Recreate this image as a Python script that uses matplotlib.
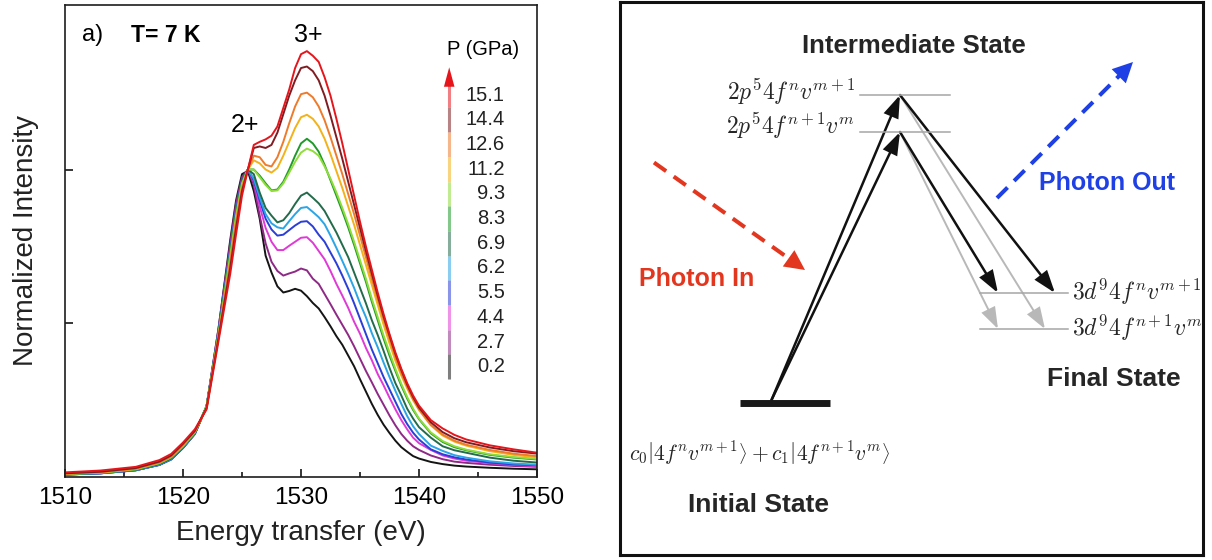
import matplotlib
matplotlib.use("Agg")
import numpy as np
import matplotlib.pyplot as plt
from matplotlib.patches import FancyArrowPatch

plt.rcParams['font.family'] = ['Liberation Sans', 'DejaVu Sans']
plt.rcParams['mathtext.fontset'] = 'cm'

# ---- spectra: energy transfer grid (eV) and normalized intensity per pressure ----
energy = [1510, 1513, 1516, 1518, 1519, 1520, 1521, 1522, 1523, 1524, 1524.5, 1525, 1525.5,
          1526, 1526.5, 1527, 1527.5, 1528, 1528.5, 1529, 1529.5, 1530, 1530.5, 1531, 1531.5,
          1532, 1532.5, 1533, 1533.5, 1534, 1534.5, 1535, 1535.5, 1536, 1536.5, 1537, 1537.5,
          1538, 1538.5, 1539, 1539.5, 1540, 1541, 1542, 1543, 1544, 1546, 1548, 1550]

pressures = ['0.2', '2.7', '4.4', '5.5', '6.2', '6.9', '8.3', '9.3', '11.2', '12.6', '14.4', '15.1']

int_0p2 = [0.008, 0.012, 0.022, 0.04, 0.058, 0.095, 0.14, 0.23, 0.48, 0.77, 0.9, 0.985, 0.995,
           0.93, 0.84, 0.72, 0.665, 0.62, 0.60, 0.605, 0.612, 0.606, 0.588, 0.566, 0.548,
           0.52, 0.49, 0.458, 0.43, 0.395, 0.36, 0.318, 0.278, 0.238, 0.202, 0.17, 0.143,
           0.118, 0.097, 0.082, 0.068, 0.06, 0.049, 0.042, 0.037, 0.034, 0.03, 0.027, 0.025]
int_2p7 = [0.008, 0.012, 0.022, 0.04, 0.058, 0.095, 0.14, 0.23, 0.48, 0.76, 0.89, 0.975, 1.0,
           0.95, 0.85, 0.76, 0.70, 0.67, 0.655, 0.662, 0.668, 0.678, 0.672, 0.645, 0.628,
           0.595, 0.562, 0.528, 0.495, 0.462, 0.425, 0.385, 0.345, 0.308, 0.27, 0.235, 0.2,
           0.168, 0.14, 0.118, 0.1, 0.088, 0.07, 0.058, 0.05, 0.046, 0.04, 0.036, 0.033]
int_4p4 = [0.009, 0.013, 0.023, 0.04, 0.058, 0.095, 0.14, 0.23, 0.47, 0.74, 0.87, 0.965, 1.0,
           0.96, 0.88, 0.81, 0.765, 0.738, 0.738, 0.752, 0.765, 0.778, 0.78, 0.762, 0.735,
           0.708, 0.67, 0.628, 0.59, 0.55, 0.505, 0.466, 0.42, 0.38, 0.335, 0.298, 0.258,
           0.22, 0.185, 0.155, 0.128, 0.11, 0.088, 0.07, 0.06, 0.053, 0.045, 0.039, 0.035]
int_5p5 = [0.008, 0.012, 0.022, 0.039, 0.057, 0.094, 0.14, 0.23, 0.47, 0.74, 0.87, 0.965, 1.0,
           0.965, 0.9, 0.84, 0.805, 0.785, 0.788, 0.803, 0.818, 0.83, 0.832, 0.815, 0.788,
           0.765, 0.73, 0.695, 0.655, 0.612, 0.565, 0.515, 0.465, 0.415, 0.37, 0.325, 0.285,
           0.245, 0.205, 0.172, 0.144, 0.122, 0.09, 0.074, 0.064, 0.057, 0.047, 0.041, 0.038]
int_6p2 = [0.008, 0.012, 0.022, 0.04, 0.058, 0.096, 0.14, 0.23, 0.47, 0.735, 0.865, 0.96, 1.0,
           0.97, 0.91, 0.855, 0.825, 0.812, 0.808, 0.832, 0.855, 0.875, 0.878, 0.862, 0.845,
           0.822, 0.785, 0.745, 0.703, 0.66, 0.615, 0.565, 0.52, 0.468, 0.422, 0.372, 0.325,
           0.28, 0.238, 0.198, 0.165, 0.14, 0.102, 0.085, 0.071, 0.063, 0.051, 0.044, 0.04]
int_6p9 = [0.009, 0.013, 0.023, 0.042, 0.06, 0.098, 0.142, 0.23, 0.465, 0.73, 0.86, 0.96, 1.0,
           0.985, 0.925, 0.875, 0.85, 0.828, 0.835, 0.858, 0.888, 0.915, 0.925, 0.908, 0.89,
           0.865, 0.83, 0.795, 0.755, 0.715, 0.665, 0.615, 0.565, 0.51, 0.462, 0.41, 0.355,
           0.305, 0.265, 0.222, 0.19, 0.162, 0.128, 0.1, 0.087, 0.079, 0.063, 0.053, 0.047]
int_8p3 = [0.01, 0.014, 0.025, 0.045, 0.064, 0.1, 0.145, 0.23, 0.46, 0.72, 0.85, 0.955, 1.0,
           1.0, 0.98, 0.955, 0.932, 0.935, 0.96, 1.0, 1.045, 1.085, 1.1, 1.085, 1.058,
           1.015, 0.965, 0.915, 0.865, 0.812, 0.755, 0.695, 0.635, 0.57, 0.51, 0.45, 0.395,
           0.345, 0.297, 0.255, 0.218, 0.188, 0.142, 0.114, 0.097, 0.087, 0.072, 0.063, 0.057]
int_9p3 = [0.01, 0.014, 0.025, 0.045, 0.064, 0.1, 0.145, 0.23, 0.46, 0.72, 0.85, 0.955, 1.0,
           1.0, 0.975, 0.95, 0.93, 0.932, 0.955, 0.99, 1.025, 1.055, 1.068, 1.06, 1.045,
           1.01, 0.97, 0.925, 0.875, 0.822, 0.765, 0.705, 0.645, 0.58, 0.52, 0.46, 0.405,
           0.352, 0.303, 0.26, 0.222, 0.19, 0.145, 0.117, 0.1, 0.089, 0.074, 0.065, 0.059]
int_11p2 = [0.011, 0.015, 0.027, 0.047, 0.066, 0.104, 0.148, 0.225, 0.455, 0.7, 0.835, 0.945, 1.0,
            1.03, 1.02, 1.0, 0.99, 1.005, 1.045, 1.09, 1.135, 1.17, 1.178, 1.165, 1.14,
            1.1, 1.05, 0.995, 0.94, 0.88, 0.82, 0.755, 0.69, 0.625, 0.56, 0.495, 0.435,
            0.378, 0.33, 0.288, 0.25, 0.218, 0.168, 0.135, 0.115, 0.102, 0.084, 0.072, 0.064]
int_12p6 = [0.011, 0.015, 0.027, 0.047, 0.066, 0.104, 0.148, 0.225, 0.455, 0.7, 0.83, 0.94, 1.0,
            1.045, 1.04, 1.015, 1.01, 1.04, 1.09, 1.15, 1.205, 1.245, 1.25, 1.235, 1.205,
            1.16, 1.105, 1.045, 0.985, 0.92, 0.855, 0.785, 0.715, 0.645, 0.578, 0.512, 0.45,
            0.39, 0.338, 0.293, 0.253, 0.22, 0.17, 0.138, 0.118, 0.105, 0.088, 0.076, 0.068]
int_14p4 = [0.012, 0.017, 0.029, 0.05, 0.07, 0.108, 0.15, 0.225, 0.45, 0.68, 0.81, 0.93, 1.0,
            1.07, 1.075, 1.07, 1.08, 1.12, 1.18, 1.24, 1.29, 1.33, 1.335, 1.32, 1.29,
            1.24, 1.175, 1.105, 1.035, 0.96, 0.885, 0.81, 0.735, 0.662, 0.59, 0.522, 0.46,
            0.4, 0.348, 0.3, 0.26, 0.226, 0.178, 0.146, 0.126, 0.113, 0.096, 0.084, 0.076]
int_15p1 = [0.015, 0.021, 0.033, 0.055, 0.075, 0.112, 0.155, 0.22, 0.44, 0.66, 0.79, 0.915, 1.0,
            1.08, 1.09, 1.098, 1.11, 1.14, 1.2, 1.26, 1.33, 1.375, 1.385, 1.37, 1.35,
            1.3, 1.24, 1.165, 1.085, 1.0, 0.915, 0.83, 0.75, 0.675, 0.6, 0.53, 0.465,
            0.405, 0.352, 0.305, 0.265, 0.232, 0.185, 0.158, 0.137, 0.122, 0.103, 0.09, 0.079]

spectra = [int_0p2, int_2p7, int_4p4, int_5p5, int_6p2, int_6p9,
           int_8p3, int_9p3, int_11p2, int_12p6, int_14p4, int_15p1]
colors = ['#141414', '#8e2a86', '#e03ad6', '#2a3ed8', '#2aa5e6', '#236b4a',
          '#1f9a2a', '#8fdc3a', '#f3b21a', '#ee7b2c', '#7f1d22', '#e6151b']

fig = plt.figure(figsize=(12.12, 5.6), dpi=100)

# 1. panel a): spectra at increasing pressure, lowest pressure drawn first
ax = fig.add_axes([65 / 1212, 83 / 560, 472 / 1212, 472 / 560])
for vals, c in zip(spectra, colors):
    ax.plot(energy, vals, color=c, lw=1.4)

ax.set_xlim(1510, 1550)
ax.set_ylim(0, 1.535)
ax.set_xticks([1510, 1520, 1530, 1540, 1550])
ax.set_xticks([1515, 1525, 1535, 1545], minor=True)
ax.set_yticks([0.5, 1.0])
ax.set_yticklabels([])
ax.tick_params(which='both', direction='in', width=1.1, top=False, right=False)
ax.tick_params(which='major', length=6, labelsize=17.5, pad=7)
ax.tick_params(which='minor', length=3.5)
for s in ax.spines.values():
    s.set_linewidth(1.2)
    s.set_color('#1e1e1e')

ax.set_xlabel('Energy transfer (eV)', fontsize=20, color='#222222')
ax.set_ylabel('Normalized Intensity', fontsize=20, color='#222222')
ax.xaxis.set_label_coords(0.5, -0.092)
ax.yaxis.set_label_coords(-0.056, 0.5)

ax.text(0.058, 0.936, 'a)', transform=ax.transAxes, ha='center', va='center', fontsize=17)
ax.text(0.214, 0.936, 'T= 7 K', transform=ax.transAxes, ha='center', va='center',
        fontsize=16.5, fontweight='bold')
ax.text(0.515, 0.936, '3+', transform=ax.transAxes, ha='center', va='center', fontsize=18)
ax.text(0.381, 0.745, '2+', transform=ax.transAxes, ha='center', va='center', fontsize=18)

# pressure scale: coloured bar with arrow and one label per spectrum
bar_x, lab_x = 0.814, 0.932
top_y, step = 0.809, 0.0523
ax.text(0.886, 0.905, 'P (GPa)', transform=ax.transAxes, ha='center', va='center', fontsize=14.5)
for i, (p, c) in enumerate(zip(pressures[::-1], colors[::-1])):
    yc = top_y - i * step
    ax.plot([bar_x, bar_x], [yc - step / 2, yc + step / 2], transform=ax.transAxes,
            color=c, alpha=0.55, lw=2.2, solid_capstyle='butt')
    ax.text(lab_x, yc, p, transform=ax.transAxes, ha='right', va='center', fontsize=14.5,
            color='#222222')
ax.annotate('', xy=(bar_x, 0.868), xytext=(bar_x, top_y + step / 2 - 0.004),
            xycoords='axes fraction',
            arrowprops=dict(arrowstyle='-|>,head_length=1.4,head_width=0.38', mutation_scale=10,
                            color='#e6151b', lw=0, shrinkA=0, shrinkB=0))

# 2. panel b): RIXS level scheme, drawn in a pixel-like frame
ax2 = fig.add_axes([619.5 / 1212, 5 / 560, 583.5 / 1212, 553 / 560])
ax2.set_xlim(0, 583.5)
ax2.set_ylim(553, 0)
ax2.set_xticks([])
ax2.set_yticks([])
for s in ax2.spines.values():
    s.set_linewidth(2.2)
    s.set_color('#111111')

level_grey = '#a6a6a6'
inter_y = [93, 130]
inter_x = (240.5, 330.5)
apex_x = 280.5
final_y = [291, 327]
final_x = (360.5, 448.5)
ground_y = 400.5
ground_x = (120.5, 210.5)
pump_start = (152, 398)

for y in inter_y:
    ax2.plot(inter_x, [y, y], color=level_grey, lw=1.1)
for y in final_y:
    ax2.plot(final_x, [y, y], color=level_grey, lw=1.1)
ax2.plot(ground_x, [ground_y, ground_y], color='#1a1a1a', lw=5, solid_capstyle='butt')


def arrow(p0, p1, color, lw, hl=1.3, hw=0.45):
    ax2.add_patch(FancyArrowPatch(p0, p1, arrowstyle=f'-|>,head_length={hl},head_width={hw}',
                                  mutation_scale=10, color=color, lw=lw,
                                  shrinkA=0, shrinkB=0, joinstyle='miter'))


# emission into the lower final level (grey) and the upper final level (black)
arrow((apex_x, inter_y[0]), (425.5, final_y[1]), '#b8b8b8', 1.4)
arrow((apex_x, inter_y[1]), (378.5, final_y[1]), '#b8b8b8', 1.4)
arrow((apex_x, inter_y[0]), (435.5, final_y[0]), '#111111', 1.8)
arrow((apex_x, inter_y[1]), (378.5, final_y[0]), '#111111', 1.8)
# absorption from the ground state
arrow(pump_start, (apex_x, inter_y[0]), '#111111', 1.8)
arrow(pump_start, (apex_x, inter_y[1]), '#111111', 1.8)


def photon(p0, tip, color):
    p0, tip = np.array(p0, float), np.array(tip, float)
    u = (tip - p0) / np.hypot(*(tip - p0))
    base = tip - u * 19
    ax2.plot([p0[0], base[0]], [p0[1], base[1]], color=color, lw=2.9,
             linestyle=(0, (3.7, 2.3)), dash_capstyle='butt')
    ax2.annotate('', xy=tip, xytext=base - u * 1,
                 arrowprops=dict(arrowstyle='-|>,head_length=1.45,head_width=0.72',
                                 mutation_scale=10, color=color, lw=0,
                                 shrinkA=0, shrinkB=0))


photon((34.5, 160.5), (185.5, 268), '#e2361f')
photon((377.5, 196), (513.5, 60), '#1e40e4')

txt = '#262626'
ax2.text(294, 44, 'Intermediate State', ha='center', va='center', fontsize=18.5,
         fontweight='bold', color=txt)
ax2.text(235.5, 98, r'$2p^54f^nv^{m+1}$', ha='right', va='baseline', fontsize=17, color=txt)
ax2.text(235.5, 132, r'$2p^54f^{n+1}v^m$', ha='right', va='baseline', fontsize=17, color=txt)
ax2.text(452, 298, r'$3d^94f^nv^{m+1}$', ha='left', va='baseline', fontsize=17, color=txt)
ax2.text(452, 334, r'$3d^94f^{n+1}v^m$', ha='left', va='baseline', fontsize=17, color=txt)
ax2.text(77.5, 277, 'Photon In', ha='center', va='center', fontsize=18, fontweight='bold',
         color='#e2361f')
ax2.text(487.5, 181, 'Photon Out', ha='center', va='center', fontsize=18, fontweight='bold',
         color='#1e40e4')
ax2.text(140.5, 451, r'$c_0\left|4f^nv^{m+1}\right\rangle + c_1\left|4f^{n+1}v^m\right\rangle$',
         ha='center', va='center', fontsize=15.5, color=txt)
ax2.text(139, 503, 'Initial State', ha='center', va='center', fontsize=19, fontweight='bold',
         color=txt)
ax2.text(494.5, 377.5, 'Final State', ha='center', va='center', fontsize=19, fontweight='bold',
         color=txt)

fig.savefig('out.png', dpi=100)
